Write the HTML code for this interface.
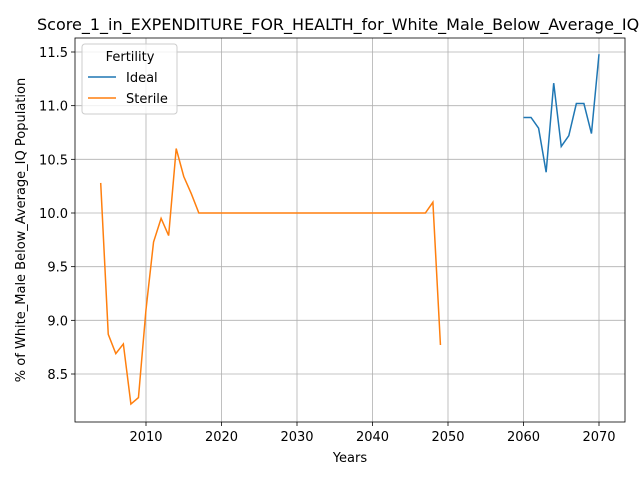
<!DOCTYPE html>
<html><head><meta charset="utf-8"><style>
body{margin:0;background:#fff;font-family:"Liberation Sans","DejaVu Sans",sans-serif}
</style></head><body>
<svg id="chart" width="640" height="480" xmlns="http://www.w3.org/2000/svg" font-family="DejaVu Sans, Liberation Sans, sans-serif"></svg>
<script>
const xTicks=[2010,2020,2030,2040,2050,2060,2070];
const yTicks=[8.5,9.0,9.5,10.0,10.5,11.0,11.5];
const idealYears=[2060,2061,2062,2063,2064,2065,2066,2067,2068,2069,2070];
const idealValues=[10.89,10.89,10.79,10.38,11.21,10.62,10.72,11.02,11.02,10.74,11.48];
const sterileYears=[];for(let y=2004;y<=2049;y++)sterileYears.push(y);
const sterileValues=[10.28,8.87,8.69,8.78,8.22,8.28,9.1,9.73,9.95,9.79,10.6,10.34,10.18,
10,10,10,10,10,10,10,10,10,10,10,10,10,10,10,10,10,10,10,10,10,10,10,10,10,10,10,10,10,10,10,10.1,8.77];
const svg=document.getElementById('chart');const NS='http://www.w3.org/2000/svg';
const L=75,R=625,T=38,B=422;
const xs=v=>146+(v-2010)*(599-146)/60;
const ys=v=>52+(11.5-v)*(374-52)/3;
function el(t,a,p){const e=document.createElementNS(NS,t);for(const k in a)e.setAttribute(k,a[k]);(p||svg).appendChild(e);return e;}
xTicks.forEach(t=>{const g=el('line',{x1:xs(t),x2:xs(t),y1:T,y2:B,stroke:'#b0b0b0','stroke-width':0.8});


el('line',{x1:xs(t),x2:xs(t),y1:B,y2:B+4,stroke:'#000','stroke-width':0.8});
const tx=el('text',{x:xs(t),y:B+19,'text-anchor':'middle','font-size':13});tx.textContent=t;

});
yTicks.forEach(t=>{const g=el('line',{x1:L,x2:R,y1:ys(t),y2:ys(t),stroke:'#b0b0b0','stroke-width':0.8});


el('line',{x1:L-4,x2:L,y1:ys(t),y2:ys(t),stroke:'#000','stroke-width':0.8});
const tx=el('text',{x:L-7,y:ys(t)+5,'text-anchor':'end','font-size':13});tx.textContent=t.toFixed(1);

});
function line(xsA,vs,c,name){const p=el('polyline',{points:xsA.map((x,i)=>xs(x)+','+ys(vs[i])).join(' '),fill:'none',stroke:c,'stroke-width':1.5});

}
line(idealYears,idealValues,'#1f77b4','ideal-line');
line(sterileYears,sterileValues,'#ff7f0e','sterile-line');
const fr=el('rect',{x:L,y:T,width:R-L,height:B-T,fill:'none',stroke:'#000','stroke-width':0.8});


</script>
<svg style="position:absolute;left:0;top:0" width="640" height="480" font-family="DejaVu Sans, Liberation Sans, sans-serif">
<text x="37" y="30" font-size="16">Score_1_in_EXPENDITURE_FOR_HEALTH_for_White_Male_Below_Average_IQ</text>
<text x="350" y="462" font-size="13" text-anchor="middle">Years</text>
<text transform="translate(25,230) rotate(-90)" font-size="13" text-anchor="middle">% of White_Male Below_Average_IQ Population</text>
<g>
<rect x="82" y="44" width="95" height="70" rx="3" fill="#fff" fill-opacity="0.8" stroke="#ccc"/>
<text x="130" y="61" font-size="13" text-anchor="middle">Fertility</text>
<line x1="88" x2="116" y1="77" y2="77" stroke="#1f77b4" stroke-width="1.5"/>
<text x="126" y="82" font-size="13">Ideal</text>
<line x1="88" x2="116" y1="98" y2="98" stroke="#ff7f0e" stroke-width="1.5"/>
<text x="126" y="103" font-size="13">Sterile</text>
</g>
</svg>
</body></html>
